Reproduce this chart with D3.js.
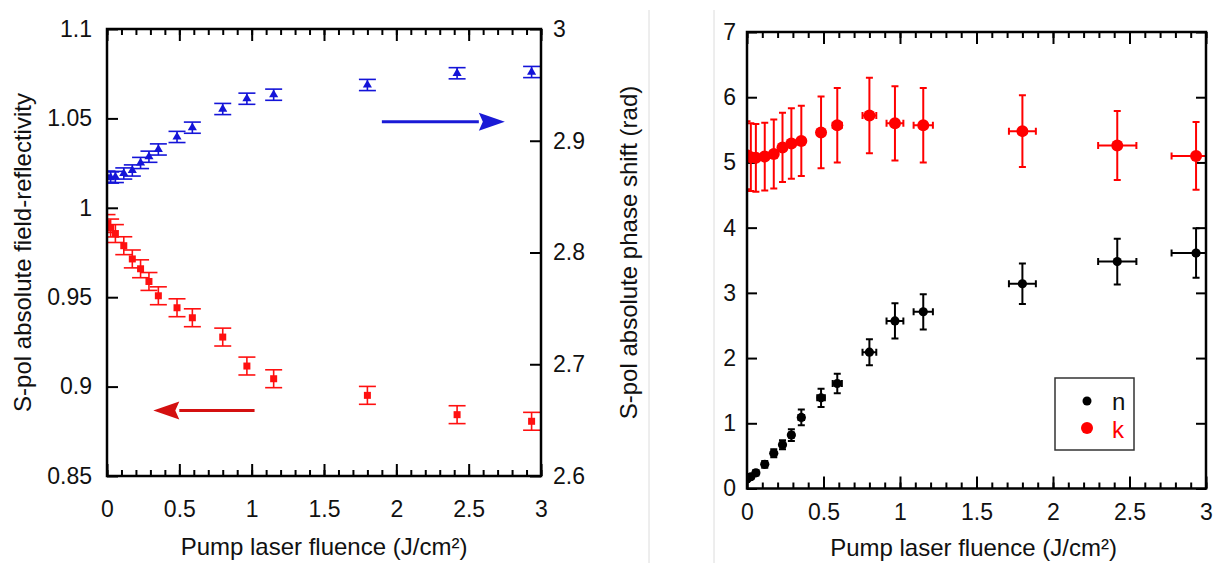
<!DOCTYPE html>
<html>
<head>
<meta charset="utf-8">
<script src="https://cdn.jsdelivr.net/npm/d3@7"></script>
<style>
  html, body { margin: 0; padding: 0; background: #fff; }
  svg { display: block; font-family: "Liberation Sans", Arial, sans-serif; }
</style>
</head>
<body>
<svg id="chart" width="1215" height="563"></svg>
<script>
// ---------------- DATA ----------------
const fluence = [0, 0.025, 0.058, 0.116, 0.175, 0.232, 0.29, 0.355, 0.484, 0.59, 0.80, 0.967, 1.152, 1.80, 2.42, 2.935];
// left panel
const reflectivity = [0.9912, 0.9887, 0.9856, 0.9788, 0.9714, 0.9659, 0.9588, 0.9508, 0.9441, 0.9385, 0.9277, 0.9115, 0.9044, 0.8951, 0.8843, 0.8806];
const reflectivityErr = [0.005, 0.005, 0.005, 0.005, 0.005, 0.005, 0.005, 0.005, 0.005, 0.005, 0.005, 0.005, 0.005, 0.005, 0.005, 0.005];
const phaseShift = [2.8678, 2.8671, 2.8676, 2.8707, 2.8734, 2.8801, 2.8857, 2.8922, 2.9034, 2.9117, 2.9284, 2.9376, 2.9412, 2.9499, 2.9604, 2.9615];
const phaseShiftErr = [0.005, 0.005, 0.005, 0.005, 0.005, 0.005, 0.005, 0.005, 0.005, 0.005, 0.005, 0.005, 0.005, 0.005, 0.005, 0.005];
// right panel
const nValues = [0.146, 0.18, 0.24, 0.37, 0.54, 0.67, 0.82, 1.09, 1.39, 1.61, 2.09, 2.57, 2.71, 3.14, 3.48, 3.61];
const nErr = [0.03, 0.03, 0.04, 0.05, 0.06, 0.07, 0.09, 0.12, 0.14, 0.15, 0.2, 0.27, 0.27, 0.31, 0.35, 0.38];
const kValues = [5.11, 5.08, 5.07, 5.09, 5.13, 5.23, 5.29, 5.33, 5.46, 5.57, 5.72, 5.60, 5.57, 5.48, 5.26, 5.10];
const kErr = [0.52, 0.52, 0.52, 0.52, 0.53, 0.53, 0.54, 0.54, 0.55, 0.57, 0.58, 0.57, 0.57, 0.55, 0.53, 0.52];
const fluenceErr = [0.004, 0.004, 0.005, 0.008, 0.01, 0.012, 0.015, 0.018, 0.025, 0.03, 0.045, 0.055, 0.063, 0.088, 0.125, 0.16];

const xTicks = [0, 0.5, 1, 1.5, 2, 2.5, 3];
const xMinorTicks = d3.range(0, 3.0001, 0.1).map(v => +v.toFixed(1));
const reflTicks = [0.85, 0.9, 0.95, 1, 1.05, 1.1];
const phaseTicks = [2.6, 2.7, 2.8, 2.9, 3];
const nkTicks = [0, 1, 2, 3, 4, 5, 6, 7];
const xTitle = "Pump laser fluence (J/cm²)";
const leftYTitle = "S-pol absolute field-reflectivity";
const rightYTitle = "S-pol absolute phase shift (rad)";
const legendLabels = ["n", "k"];

// ---------------- SETUP ----------------
const svg = d3.select("#chart");
const FONT = 23, TFONT = 24;
const RED = "#ff1010", BLUE = "#1414d8";

// separator lines (image borders)
[649, 714].forEach(x => svg.append("line").attr("x1", x).attr("x2", x).attr("y1", 10).attr("y2", 563)
  .attr("stroke", "#dcdcdc").attr("stroke-width", 1));

function styleAxis(g) {
  g.attr("font-size", FONT).attr("font-family", "'Liberation Sans', Arial, sans-serif");
  g.select(".domain").remove();
  g.selectAll("line").attr("stroke", "#000").attr("stroke-width", 2);
  g.selectAll("text").attr("fill", "#111");
}
const fmt = d => String(d);

function frameAndXAxes(x, top, bottom, pad) {
  svg.append("g").attr("transform", `translate(0,${bottom})`)
    .call(d3.axisBottom(x).tickValues(xMinorTicks).tickSize(-6).tickFormat("")).call(styleAxis);
  svg.append("g").attr("transform", `translate(0,${top})`)
    .call(d3.axisTop(x).tickValues(xMinorTicks).tickSize(-6).tickFormat("")).call(styleAxis);
  svg.append("g").attr("transform", `translate(0,${bottom})`)
    .call(d3.axisBottom(x).tickValues(xTicks).tickSize(-12).tickPadding(pad).tickFormat(fmt)).call(styleAxis);
  svg.append("g").attr("transform", `translate(0,${top})`)
    .call(d3.axisTop(x).tickValues(xTicks).tickSize(-12).tickFormat("")).call(styleAxis);
}

function frame(x0, x1, y0, y1) {
  svg.append("rect").attr("x", x0).attr("y", y0).attr("width", x1 - x0).attr("height", y1 - y0)
    .attr("fill", "none").attr("stroke", "#000").attr("stroke-width", 2.5);
}

// ---------------- LEFT PANEL ----------------
const L = { left: 107, right: 541, top: 29, bottom: 476 };
const xL = d3.scaleLinear().domain([0, 3]).range([L.left, L.right]);
const yRefl = d3.scaleLinear().domain([0.85, 1.1]).range([L.bottom, L.top]);
const yPhase = d3.scaleLinear().domain([2.6, 3.0]).range([L.bottom, L.top]);

frameAndXAxes(xL, L.top, L.bottom, 25);
svg.append("g").attr("transform", `translate(${L.left},0)`)
  .call(d3.axisLeft(yRefl).tickValues(reflTicks).tickSize(-11).tickPadding(15).tickFormat(fmt)).call(styleAxis);
svg.append("g").attr("transform", `translate(${L.right},0)`)
  .call(d3.axisRight(yPhase).tickValues(phaseTicks).tickSize(-11).tickPadding(12).tickFormat(fmt)).call(styleAxis);

const defs = svg.append("defs");
defs.append("clipPath").attr("id", "clipL").append("rect")
  .attr("x", L.left).attr("y", L.top).attr("width", L.right - L.left + 2).attr("height", L.bottom - L.top);

const gL = svg.append("g").attr("clip-path", "url(#clipL)");
const CAP_L = 8.5;
function ibar(g, xs, ys, es, xs_, ys_, color) {
  xs.forEach((v, i) => {
    const cx = xs_(v), y1 = ys_(ys[i] + es[i]), y2 = ys_(ys[i] - es[i]);
    g.append("line").attr("x1", cx).attr("x2", cx).attr("y1", y1).attr("y2", y2).attr("stroke", color).attr("stroke-width", 1.6);
    [y1, y2].forEach(yy => g.append("line").attr("x1", cx - CAP_L).attr("x2", cx + CAP_L).attr("y1", yy).attr("y2", yy)
      .attr("stroke", color).attr("stroke-width", 1.6));
  });
}
ibar(gL, fluence, phaseShift, phaseShiftErr, xL, yPhase, BLUE);
ibar(gL, fluence, reflectivity, reflectivityErr, xL, yRefl, RED);

gL.selectAll(".tri").data(fluence).join("path")
  .attr("d", d3.symbol(d3.symbolTriangle, 36))
  .attr("transform", (d, i) => `translate(${xL(d)},${yPhase(phaseShift[i])})`)
  .attr("fill", BLUE);
gL.selectAll(".sq").data(fluence).join("rect")
  .attr("x", d => xL(d) - 3.5).attr("y", (d, i) => yRefl(reflectivity[i]) - 3.5)
  .attr("width", 7).attr("height", 7).attr("fill", RED);

// arrows
function arrow(x1, x2, y, color) {
  const dir = Math.sign(x2 - x1), headLen = 26, half = 9;
  const xb = x2 - dir * headLen;
  svg.append("line").attr("x1", x1).attr("x2", xb).attr("y1", y).attr("y2", y).attr("stroke", color).attr("stroke-width", 3);
  svg.append("path").attr("d", `M${x2},${y} L${xb},${y - half} L${xb + dir * 4},${y} L${xb},${y + half} Z`).attr("fill", color);
}
arrow(xL(1.9), xL(2.75), yPhase(2.917), "#1a1ad6");
arrow(xL(1.02), xL(0.32), yRefl(0.8867), "#d41010");

// titles
svg.append("text").attr("x", xL(1.5)).attr("y", 555).attr("text-anchor", "middle")
  .attr("font-size", TFONT).attr("fill", "#111").text(xTitle);
svg.append("text").attr("transform", `translate(31,${(L.top + L.bottom) / 2}) rotate(-90)`)
  .attr("text-anchor", "middle").attr("font-size", TFONT).attr("fill", "#111").text(leftYTitle);
svg.append("text").attr("transform", `translate(637,${(L.top + L.bottom) / 2}) rotate(-90)`)
  .attr("text-anchor", "middle").attr("font-size", TFONT).attr("fill", "#111").text(rightYTitle);

// ---------------- RIGHT PANEL ----------------
const R = { left: 747, right: 1206, top: 32, bottom: 488.5 };
const xR = d3.scaleLinear().domain([0, 3]).range([R.left, R.right]);
const yNK = d3.scaleLinear().domain([0, 7]).range([R.bottom, R.top]);

frameAndXAxes(xR, R.top, R.bottom, 15);
svg.append("g").attr("transform", `translate(${R.left},0)`)
  .call(d3.axisLeft(yNK).tickValues(nkTicks).tickSize(-10).tickPadding(11).tickFormat(fmt)).call(styleAxis);
svg.append("g").attr("transform", `translate(${R.right},0)`)
  .call(d3.axisRight(yNK).tickValues(nkTicks).tickSize(-10).tickFormat("")).call(styleAxis);

defs.append("clipPath").attr("id", "clipR").append("rect")
  .attr("x", R.left).attr("y", R.top).attr("width", R.right - R.left).attr("height", R.bottom - R.top);
const gR = svg.append("g").attr("clip-path", "url(#clipR)");
const CAP_R = 3.5;
function crossbar(g, xs, ys, yes, xes, color) {
  xs.forEach((v, i) => {
    const cx = xR(v), cy = yNK(ys[i]);
    const y1 = yNK(ys[i] + yes[i]), y2 = yNK(ys[i] - yes[i]);
    const x1 = xR(v - xes[i]), x2 = xR(v + xes[i]);
    g.append("line").attr("x1", cx).attr("x2", cx).attr("y1", y1).attr("y2", y2).attr("stroke", color).attr("stroke-width", 2);
    [y1, y2].forEach(yy => g.append("line").attr("x1", cx - CAP_R).attr("x2", cx + CAP_R).attr("y1", yy).attr("y2", yy)
      .attr("stroke", color).attr("stroke-width", 2));
    g.append("line").attr("x1", x1).attr("x2", x2).attr("y1", cy).attr("y2", cy).attr("stroke", color).attr("stroke-width", 2);
    [x1, x2].forEach(xx => g.append("line").attr("x1", xx).attr("x2", xx).attr("y1", cy - CAP_R).attr("y2", cy + CAP_R)
      .attr("stroke", color).attr("stroke-width", 2));
  });
}
crossbar(gR, fluence, kValues, kErr, fluenceErr, "#ff0000");
crossbar(gR, fluence, nValues, nErr, fluenceErr, "#000");
gR.selectAll(".k").data(fluence).join("circle")
  .attr("cx", d => xR(d)).attr("cy", (d, i) => yNK(kValues[i])).attr("r", 6).attr("fill", "#ff0000");
gR.selectAll(".n").data(fluence).join("circle")
  .attr("cx", d => xR(d)).attr("cy", (d, i) => yNK(nValues[i])).attr("r", 4.6).attr("fill", "#000");

// legend
const lg = svg.append("g");
lg.append("rect").attr("x", 1055).attr("y", 378).attr("width", 79).attr("height", 72)
  .attr("fill", "#fff").attr("stroke", "#333").attr("stroke-width", 1.5);
lg.append("circle").attr("cx", 1087).attr("cy", 401).attr("r", 4.5).attr("fill", "#000");
lg.append("circle").attr("cx", 1087).attr("cy", 428).attr("r", 6).attr("fill", "#ff0000");
lg.append("text").attr("x", 1112).attr("y", 410).attr("font-size", TFONT).attr("fill", "#111").text(legendLabels[0]);
lg.append("text").attr("x", 1112).attr("y", 438).attr("font-size", TFONT).attr("fill", "#ff0000").text(legendLabels[1]);

svg.append("text").attr("x", xR(1.5) - 3).attr("y", 556).attr("text-anchor", "middle")
  .attr("font-size", TFONT).attr("fill", "#111").text(xTitle);

frame(L.left, L.right, L.top, L.bottom);
frame(R.left, R.right, R.top, R.bottom);
</script>
</body>
</html>
